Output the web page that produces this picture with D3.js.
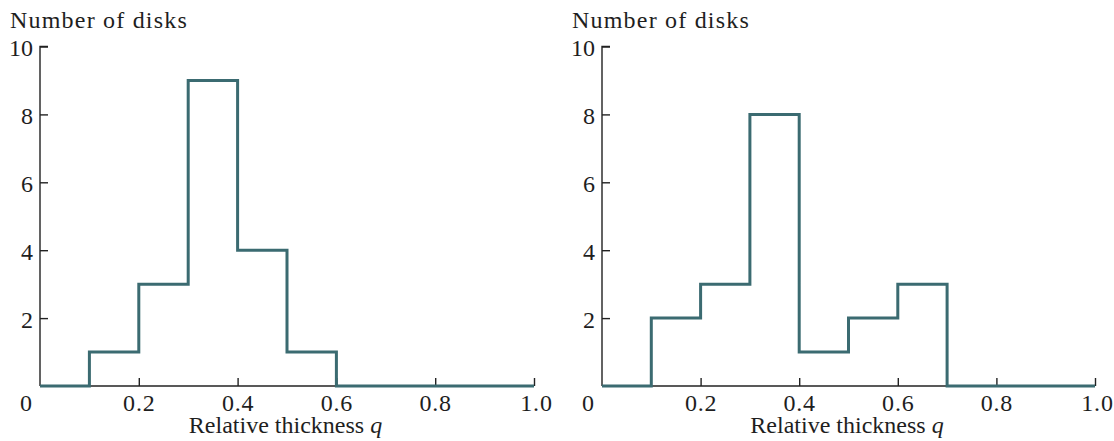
<!DOCTYPE html>
<html><head><meta charset="utf-8">
<script src="https://cdn.jsdelivr.net/npm/d3@7"></script>
<style>body{margin:0;background:#fff}svg text{font-family:"Liberation Serif","DejaVu Serif",serif;fill:#1e1e1e}</style>
</head><body><svg id="c" width="1114" height="441"></svg>
<script>
const binEdges = [0,0.1,0.2,0.3,0.4,0.5,0.6,0.7,0.8,0.9,1.0];
const countsLeft = [0,1,3,9,4,1,0,0,0,0];
const countsRight = [0,2,3,8,1,2,3,0,0,0];
const xTicks = [0.2,0.4,0.6,0.8,1.0];
const yTicks = [2,4,6,8,10];
const yLabel = "Number of disks";
const xLabel = "Relative thickness ";

const svg = d3.select("#c");
const color = "#3b6b71";

function panel(x0, x1, counts) {
  const x = d3.scaleLinear().domain([0,1]).range([x0,x1]);
  const y = d3.scaleLinear().domain([0,10]).range([386,46.5]);
  const g = svg.append("g");
  // y axis
  const ya = g.append("g").attr("transform",`translate(${x0},0)`)
    .call(d3.axisRight(y).tickValues(yTicks).tickSize(8).tickFormat(""));
  ya.select(".domain").attr("d",`M8,${y(10)}H0V${y(0)}`);
  ya.selectAll("line,path").attr("stroke","#222").attr("stroke-width",1.4);
  yTicks.forEach(t=>{
    g.append("text").attr("x",x0-7).attr("y",y(t)+1).attr("dy","0.35em")
      .attr("text-anchor","end").attr("font-size",24).text(t);
  });
  // x axis
  const xa = g.append("g").attr("transform",`translate(0,${y(0)})`)
    .call(d3.axisTop(x).tickValues(xTicks).tickSize(8).tickFormat(""));
  xa.select(".domain").attr("d",`M${x0},0H${x1}`);
  xa.selectAll("line,path").attr("stroke","#222").attr("stroke-width",1.4);
  xTicks.forEach(t=>{
    g.append("text").attr("x",x(t)+ (t===1?2.5:0.5)).attr("y",411)
      .attr("text-anchor","middle").attr("font-size",24).attr("letter-spacing",0.8).text(t.toFixed(1));
  });
  g.append("text").attr("x",x0-8).attr("y",411).attr("text-anchor","end")
    .attr("font-size",24).text("0");
  // labels
  g.append("text").attr("x",x0-30).attr("y",28).attr("font-size",24).attr("letter-spacing",1.2).text(yLabel);
  const xl = g.append("text").attr("x",x(0.497)).attr("y",433).attr("text-anchor","middle").attr("font-size",24);
  xl.append("tspan").text(xLabel);
  xl.append("tspan").attr("font-style","italic").text("q");
  // step line
  const pts = counts.map((c,i)=>[binEdges[i],c]);
  pts.push([binEdges[binEdges.length-1], counts[counts.length-1]]);
  const line = d3.line().x(d=>x(d[0])).y(d=>y(d[1])).curve(d3.curveStepAfter);
  g.append("path").attr("d",line(pts)).attr("fill","none").attr("stroke",color)
    .attr("stroke-width",3).attr("stroke-linejoin","miter");
}
panel(40, 534, countsLeft);
panel(602, 1095, countsRight);
</script></body></html>
